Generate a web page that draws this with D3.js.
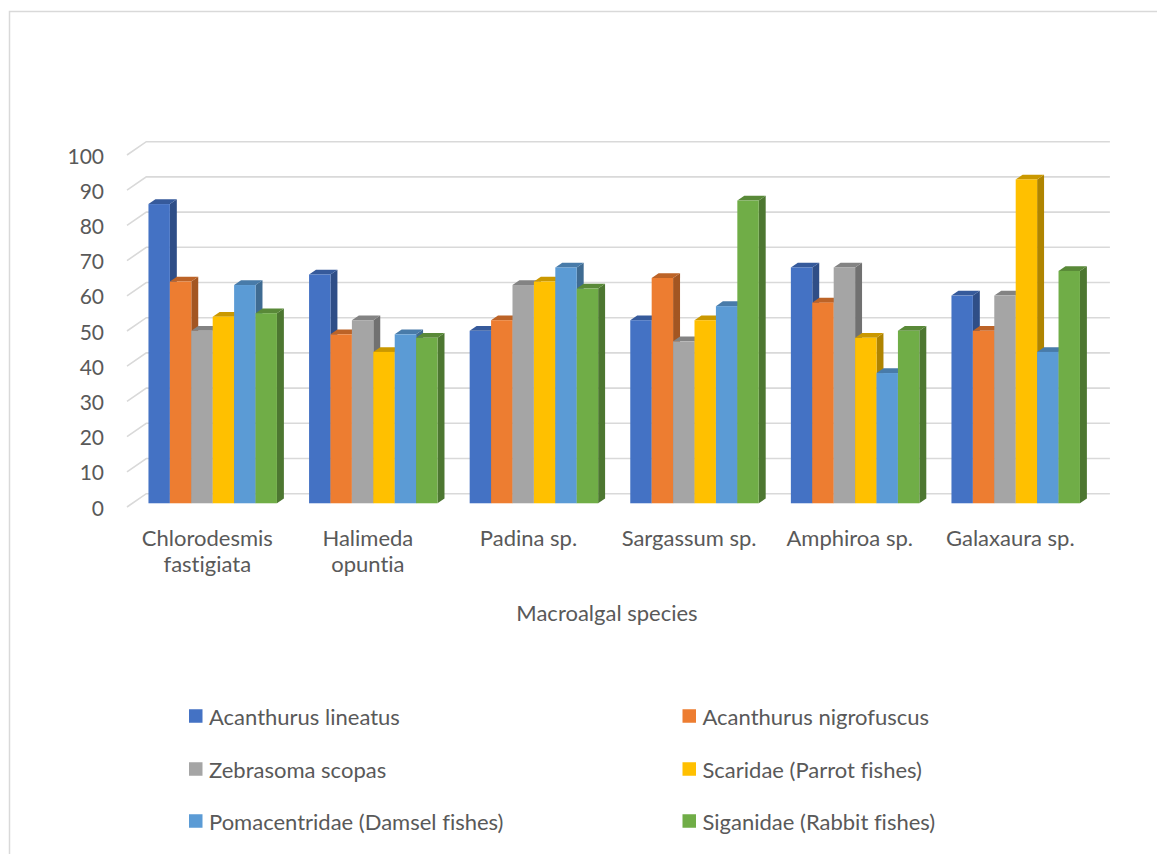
<!DOCTYPE html>
<html>
<head>
<meta charset="utf-8">
<script src="https://cdn.jsdelivr.net/npm/d3@7"></script>
<style>
  html, body { margin: 0; padding: 0; background: #ffffff; }
  svg { display: block; }
  text { font-family: Lato, "Open Sans", sans-serif; fill: #595959; font-variant-ligatures: none; font-feature-settings: "liga" 0, "clig" 0, "dlig" 0; }
</style>
</head>
<body>
<svg id="chart" width="1157" height="854"></svg>
<script>
// ---- data ----
const categories = ["Chlorodesmis fastigiata", "Halimeda opuntia", "Padina sp.", "Sargassum sp.", "Amphiroa sp.", "Galaxaura sp."];
const seriesNames = ["Acanthurus lineatus", "Acanthurus nigrofuscus", "Zebrasoma scopas", "Scaridae (Parrot fishes)", "Pomacentridae (Damsel fishes)", "Siganidae (Rabbit fishes)"];
const acanthurusLineatus    = [85, 65, 49, 52, 67, 59];
const acanthurusNigrofuscus = [63, 48, 52, 64, 57, 49];
const zebrasomaScopas       = [49, 52, 62, 46, 67, 59];
const scaridae              = [53, 43, 63, 52, 47, 92];
const pomacentridae         = [62, 48, 67, 56, 37, 43];
const siganidae             = [54, 47, 61, 86, 49, 66];
const seriesColors = ["#4472C4", "#ED7D31", "#A5A5A5", "#FFC000", "#5B9BD5", "#70AD47"];
const yTicks = [0, 10, 20, 30, 40, 50, 60, 70, 80, 90, 100];
const xAxisTitle = "Macroalgal species";

const seriesValues = [acanthurusLineatus, acanthurusNigrofuscus, zebrasomaScopas, scaridae, pomacentridae, siganidae];

// ---- layout ----
const svg = d3.select("#chart");
const frontLeft = 127, frontRight = 1090.6;
const depthX = 19.3, depthY = -13.3;     // full floor depth projection
const barT0 = 0.28, barT1 = 0.64;         // bar depth span within floor
const bdx = (barT1 - barT0) * depthX, bdy = (barT1 - barT0) * depthY;
const fx = barT0 * depthX, fy = barT0 * depthY;

const x0 = d3.scaleBand().domain(categories).range([frontLeft, frontRight]);
const xs = d3.scaleBand().domain(seriesNames).range([0, x0.bandwidth()]).paddingOuter(0.75);
const y = d3.scaleLinear().domain([0, 100]).range([507, 155]);

// chart border
svg.append("rect")
  .attr("x", 9.5).attr("y", 11.5).attr("width", 1300).attr("height", 1000)
  .attr("fill", "none").attr("stroke", "#d9d9d9").attr("stroke-width", 1.5);

// gridlines (side wall + back wall)
const grid = svg.append("g");
yTicks.forEach(v => {
  const yf = y(v);
  grid.append("path")
    .attr("d", `M${frontLeft},${yf} L${frontLeft + depthX},${yf + depthY} L${frontRight + depthX},${yf + depthY}`)
    .attr("fill", "none").attr("stroke", "#d9d9d9").attr("stroke-width", 1.6);
});

// y tick labels
svg.append("g").selectAll("text").data(yTicks).join("text")
  .attr("x", 104).attr("y", d => y(d))
  .attr("text-anchor", "end").attr("dominant-baseline", "central")
  .style("font-size", "21px")
  .text(d => d);

// bars
const barsG = svg.append("g");
categories.forEach((cat, ci) => {
  seriesNames.forEach((s, si) => {
    const v = seriesValues[si][ci];
    const base = d3.color(seriesColors[si]);
    const xL = x0(cat) + xs(s) + fx;
    const xR = xL + xs.bandwidth();
    const yT = y(v) + fy;
    const yB = y(0) + fy;
    const g = barsG.append("g");
    g.append("path")
      .attr("d", `M${xR},${yT} L${xR + bdx},${yT + bdy} L${xR + bdx},${yB + bdy} L${xR},${yB} Z`)
      .attr("fill", base.darker(1.05).formatHex());
    g.append("path")
      .attr("d", `M${xL},${yT} L${xL + bdx},${yT + bdy} L${xR + bdx},${yT + bdy} L${xR},${yT} Z`)
      .attr("fill", base.darker(0.65).formatHex());
    g.append("rect")
      .attr("x", xL).attr("y", yT).attr("width", xs.bandwidth()).attr("height", yB - yT)
      .attr("fill", base.formatHex());
  });
});

// category labels (wrapped to band width)
const catG = svg.append("g");
categories.forEach(cat => {
  const cx = x0(cat) + x0.bandwidth() / 2;
  const t = catG.append("text").attr("x", cx).attr("y", 546)
    .attr("text-anchor", "middle").style("font-size", "22px");
  const words = cat.split(" ");
  let line = [];
  let tspan = t.append("tspan").attr("x", cx).attr("dy", 0);
  words.forEach(w => {
    line.push(w);
    tspan.text(line.join(" "));
    if (tspan.node().getComputedTextLength() > x0.bandwidth() - 6 && line.length > 1) {
      line.pop();
      tspan.text(line.join(" "));
      line = [w];
      tspan = t.append("tspan").attr("x", cx).attr("dy", 26).text(w);
    }
  });
});

// axis title
svg.append("text").attr("x", 607).attr("y", 621)
  .attr("text-anchor", "middle").style("font-size", "22px")
  .text(xAxisTitle);

// legend
const legendCols = [189, 682.5];
const legendRows = [716, 769, 821];
const legG = svg.append("g");
seriesNames.forEach((s, i) => {
  const cx = legendCols[i % 2], cy = legendRows[Math.floor(i / 2)];
  legG.append("rect").attr("x", cx).attr("y", cy - 6.75).attr("width", 13.5).attr("height", 13.5)
    .attr("fill", seriesColors[i]);
  legG.append("text").attr("x", cx + 20).attr("y", cy)
    .attr("dominant-baseline", "central").style("font-size", "22px")
    .text(s);
});
</script>
</body>
</html>
